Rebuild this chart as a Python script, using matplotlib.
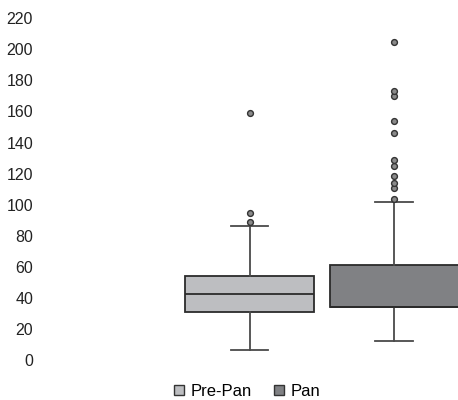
import matplotlib.pyplot as plt
from matplotlib.patches import Patch

plt.rcParams['font.family'] = ['Liberation Sans', 'DejaVu Sans']

# data
labels = ["Pre-Pan", "Pan"]
q1 = [30.7, 33.9]
med = [42.3, 33.9]
q3 = [54.1, 61.2]
whislo = [6.4, 12.4]
whishi = [86.3, 101.9]
fliers_pre = [89.1, 94.5, 159.2]
fliers_pan = [103.7, 111.0, 114.2, 118.5, 125.0, 128.8, 145.9, 154.1, 170.0, 173.2, 204.6]
colors = ["#bdbec1", "#808184"]
yticks = list(range(0, 221, 20))

fliers = [fliers_pre, fliers_pan]

fig = plt.figure(figsize=(4.58, 4.0), dpi=100)
ax = fig.add_axes([40/458, 40/400, 418/458, 341.7/400])

for i in range(2):
    st = [dict(label=labels[i], q1=q1[i], med=med[i], q3=q3[i],
               whislo=whislo[i], whishi=whishi[i], fliers=fliers[i])]
    ax.bxp(st, positions=[i + 1], widths=0.89, patch_artist=True,
           boxprops=dict(facecolor=colors[i], edgecolor="#2b2b2b", linewidth=1.3),
           medianprops=dict(color="#2b2b2b", linewidth=1.3),
           whiskerprops=dict(color="#4a4a4a", linewidth=1.3),
           capprops=dict(color="#4a4a4a", linewidth=1.3),
           capwidths=0.26,
           flierprops=dict(marker="o", markersize=4.2, markerfacecolor="#8a8a8a",
                           markeredgecolor="#333333", markeredgewidth=1.0))

ax.set_xlim(-0.447, 2.44)
ax.set_ylim(0, 220)
ax.set_yticks(yticks)
ax.set_xticks([])
ax.tick_params(axis="y", length=0, labelsize=11.5, colors="#222222", pad=5)
for s in ax.spines.values():
    s.set_visible(False)

handles = [Patch(facecolor=colors[i], edgecolor="#333333", label=labels[i]) for i in range(2)]
fig.legend(handles=handles, loc="lower center", bbox_to_anchor=(0.54, -0.035), ncol=2,
           frameon=False, fontsize=12, handlelength=0.6, handleheight=0.6,
           handletextpad=0.4, columnspacing=1.3)

fig.savefig("out.png", dpi=100)
